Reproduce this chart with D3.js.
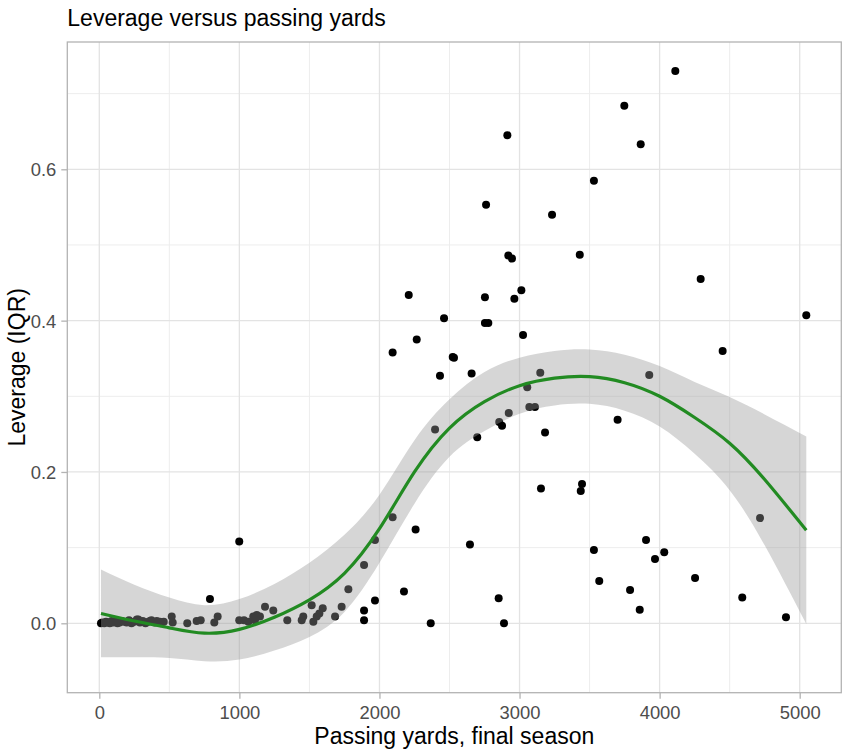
<!DOCTYPE html>
<html>
<head>
<meta charset="utf-8">
<script src="https://cdn.jsdelivr.net/npm/d3@7"></script>
<style>
  html, body { margin: 0; padding: 0; background: #fff; }
  svg { display: block; font-family: "Liberation Sans", Arial, sans-serif; }
</style>
</head>
<body>
<svg id="chart" width="842" height="749"></svg>
<script>
// Quarterbacks: passing yards in final season vs. leverage (IQR)
const passYards = [
  12, 22, 35, 48, 60, 75, 88, 100, 115, 130, 145, 160, 178, 195, 212, 230, 250, 268,
  290, 310, 330, 350, 372, 395, 410, 440, 460,
  278, 362, 433, 517, 524, 628, 695, 724, 790, 821, 845,
  999, 999, 1033, 1064, 1099, 1111, 1124, 1147, 1183, 1242, 1342, 1445, 1456,
  1516, 1528, 1552, 1571, 1595, 1683, 1730, 1778, 1890, 1890, 1890, 1968, 1968,
  2094, 2094, 2175, 2209, 2258, 2266, 2366, 2397, 2432, 2461, 2523, 2532,
  2646, 2658, 2698, 2753, 2753, 2761, 2777, 2851, 2855, 2875, 2889, 2913, 2920,
  2923, 2946, 2963, 3013, 3025, 3055, 3070, 3110, 3148, 3153, 3182, 3232,
  3430, 3437, 3446, 3531, 3531, 3569, 3700, 3748, 3789, 3858, 3865, 3903, 3926,
  3967, 4033, 4112, 4253, 4293, 4450, 4590, 4717, 4902, 5047
];
const leverage = [
  0.000, 0.001, 0.000, 0.002, 0.001, 0.000, 0.003, 0.001, 0.002, 0.000, 0.001, 0.003, 0.002, 0.001, 0.004, 0.000, 0.002, 0.005,
  0.001, 0.003, 0.000, 0.002, 0.004, 0.001, 0.003, 0.000, 0.002,
  0.005, 0.003, 0.002, 0.009, 0.001, 0.000, 0.003, 0.004, 0.032, 0.001, 0.009,
  0.004, 0.108, 0.004, 0.002, 0.009, 0.004, 0.011, 0.009, 0.022, 0.017, 0.004, 0.004, 0.009,
  0.024, 0.002, 0.009, 0.013, 0.020, 0.009, 0.022, 0.045, 0.077, 0.017, 0.004, 0.110, 0.030,
  0.358, 0.140, 0.042, 0.434, 0.124, 0.375, 0.000, 0.256, 0.327, 0.403, 0.352, 0.351,
  0.104, 0.330, 0.246, 0.431, 0.397, 0.553, 0.397, 0.033, 0.266, 0.261, 0.000, 0.645, 0.486,
  0.278, 0.482, 0.429, 0.440, 0.381, 0.312, 0.286, 0.286, 0.331, 0.178, 0.252, 0.540,
  0.487, 0.175, 0.184, 0.585, 0.097, 0.056, 0.269, 0.684, 0.044, 0.018, 0.633, 0.110, 0.328,
  0.085, 0.094, 0.730, 0.060, 0.455, 0.360, 0.034, 0.139, 0.008, 0.407
];

// Loess fit with its confidence band
const smoothX     = [12, 250, 500, 750, 1000, 1250, 1500, 1750, 2000, 2250, 2500, 2750, 3000, 3250, 3500, 3750, 4000, 4250, 4500, 4750, 5047];
const smoothFit   = [0.013, 0.003, -0.006, -0.013, -0.008, 0.008, 0.031, 0.066, 0.125, 0.200, 0.258, 0.293, 0.314, 0.324, 0.326, 0.318, 0.300, 0.272, 0.238, 0.190, 0.123];
const smoothUpper = [0.071, 0.051, 0.034, 0.024, 0.032, 0.052, 0.080, 0.117, 0.170, 0.242, 0.296, 0.332, 0.351, 0.360, 0.362, 0.355, 0.340, 0.319, 0.299, 0.276, 0.247];
const smoothLower = [-0.045, -0.045, -0.046, -0.050, -0.048, -0.036, -0.018, 0.015, 0.080, 0.158, 0.220, 0.254, 0.277, 0.288, 0.290, 0.281, 0.260, 0.224, 0.176, 0.103, -0.001];

const xTicks = [0, 1000, 2000, 3000, 4000, 5000];
const xMinor = [500, 1500, 2500, 3500, 4500];
const yTicks = [0, 0.2, 0.4, 0.6];
const yMinor = [-0.1, 0.1, 0.3, 0.5, 0.7];

const titleText = "Leverage versus passing yards";
const xTitle = "Passing yards, final season";
const yTitle = "Leverage (IQR)";

const svg = d3.select("#chart");
const panel = { left: 67.3, right: 841.3, top: 42, bottom: 692.7 };

const x = d3.scaleLinear().domain([0, 5000]).range([99.3, 799.7]);
const y = d3.scaleLinear().domain([0, 0.6]).range([623.3, 169.3]);

const panelG = svg.append("g");
panelG.append("rect")
  .attr("x", panel.left).attr("y", panel.top)
  .attr("width", panel.right - panel.left).attr("height", panel.bottom - panel.top)
  .attr("fill", "#fff");

// grid lines
const inX = v => x(v) > panel.left && x(v) < panel.right;
const inY = v => y(v) > panel.top && y(v) < panel.bottom;
panelG.selectAll(".gxm").data(xMinor.filter(inX)).join("line")
  .attr("x1", d => x(d)).attr("x2", d => x(d))
  .attr("y1", panel.top).attr("y2", panel.bottom)
  .attr("stroke", "#EDEDED").attr("stroke-width", 1);
panelG.selectAll(".gym").data(yMinor.filter(inY)).join("line")
  .attr("x1", panel.left).attr("x2", panel.right)
  .attr("y1", d => y(d)).attr("y2", d => y(d))
  .attr("stroke", "#EDEDED").attr("stroke-width", 1);
panelG.selectAll(".gx").data(xTicks).join("line")
  .attr("x1", d => x(d)).attr("x2", d => x(d))
  .attr("y1", panel.top).attr("y2", panel.bottom)
  .attr("stroke", "#E3E3E3").attr("stroke-width", 1.3);
panelG.selectAll(".gy").data(yTicks).join("line")
  .attr("x1", panel.left).attr("x2", panel.right)
  .attr("y1", d => y(d)).attr("y2", d => y(d))
  .attr("stroke", "#E3E3E3").attr("stroke-width", 1.3);

// points
const pts = passYards.map((v, i) => ({ x: v, y: leverage[i] }));
panelG.selectAll(".pt").data(pts).join("circle")
  .attr("cx", d => x(d.x)).attr("cy", d => y(d.y))
  .attr("r", 4).attr("fill", "#000");

// confidence ribbon
const band = smoothX.map((v, i) => ({ x: v, lo: smoothLower[i], hi: smoothUpper[i], fit: smoothFit[i] }));
panelG.append("path")
  .datum(band)
  .attr("d", d3.area().x(d => x(d.x)).y0(d => y(d.lo)).y1(d => y(d.hi)).curve(d3.curveNatural))
  .attr("fill", "#999999").attr("fill-opacity", 0.4);

// fitted line
panelG.append("path")
  .datum(band)
  .attr("d", d3.line().x(d => x(d.x)).y(d => y(d.fit)).curve(d3.curveNatural))
  .attr("fill", "none").attr("stroke", "#228B22").attr("stroke-width", 3.2);

// panel border
svg.append("rect")
  .attr("x", panel.left).attr("y", panel.top)
  .attr("width", panel.right - panel.left).attr("height", panel.bottom - panel.top)
  .attr("fill", "none").attr("stroke", "#B3B3B3").attr("stroke-width", 1.3);

// axes
const xAxis = svg.append("g")
  .attr("transform", `translate(0,${panel.bottom})`)
  .call(d3.axisBottom(x).tickValues(xTicks).tickFormat(d3.format("d")).tickSize(6).tickPadding(5));
const yAxis = svg.append("g")
  .attr("transform", `translate(${panel.left},0)`)
  .call(d3.axisLeft(y).tickValues(yTicks).tickFormat(d3.format(".1f")).tickSize(6).tickPadding(5));
[xAxis, yAxis].forEach(g => {
  g.select(".domain").remove();
  g.selectAll(".tick line").attr("stroke", "#B3B3B3").attr("stroke-width", 1.3);
  g.selectAll(".tick text")
    .attr("fill", "#4D4D4D")
    .style("font-size", "18.4px")
    .style("font-family", '"Liberation Sans", Arial, sans-serif');
});
xAxis.selectAll(".tick text").attr("dy", null).attr("y", 26.6);
yAxis.selectAll(".tick text").attr("dy", "0.35em");

// titles
svg.append("text")
  .attr("x", panel.left).attr("y", 26)
  .attr("fill", "#000").style("font-size", "23px")
  .text(titleText);
svg.append("text")
  .attr("x", (panel.left + panel.right) / 2).attr("y", 744)
  .attr("text-anchor", "middle").attr("fill", "#000").style("font-size", "23px")
  .text(xTitle);
svg.append("text")
  .attr("transform", `translate(25,${(panel.top + panel.bottom) / 2}) rotate(-90)`)
  .attr("text-anchor", "middle").attr("fill", "#000").style("font-size", "23px")
  .text(yTitle);
</script>
</body>
</html>
